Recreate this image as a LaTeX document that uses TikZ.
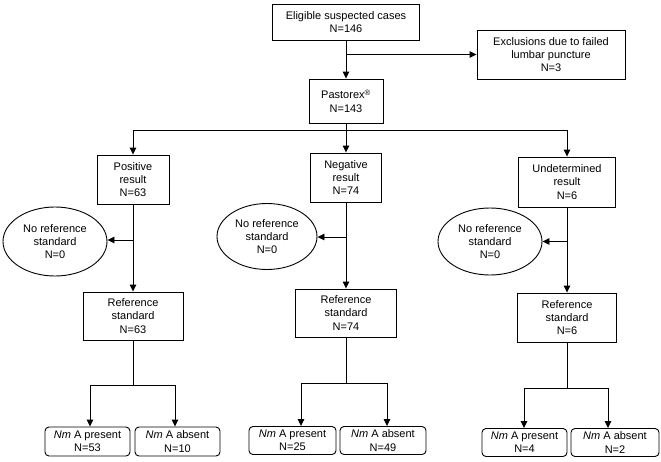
\documentclass[tikz,border=0pt]{standalone}
\usepackage{fontspec}
\setmainfont{Liberation Sans}
\usetikzlibrary{shapes.geometric,arrows.meta}
\tikzset{
  txt/.style={font=\fontsize{11}{13.3}\selectfont, align=center, inner sep=0pt},
  box/.style={txt, draw, line width=0.9pt},
  rbox/.style={box, rounded corners=4pt},
  ell/.style={txt, draw, line width=0.9pt, ellipse},
  ln/.style={line width=0.9pt},
  arr/.style={ln, -{Triangle[length=7pt,width=6.5pt]}}
}
\begin{document}
\begin{tikzpicture}[x=1pt,y=-1pt]
\path[use as bounding box] (0,0) rectangle (661,461);
% top part
\node[box, minimum width=147, minimum height=36] (top) at (346,22) {Eligible suspected cases\\N=146};
\node[box, minimum width=148, minimum height=49] (excl) at (551,54.5) {Exclusions due to failed\\lumbar puncture\\N=3};
\node[box, minimum width=74, minimum height=44] (past) at (346,101) {Pastorex\textsuperscript{\textregistered}\\N=143};
% second level
\node[box, minimum width=72, minimum height=49] (pos) at (133,179.5) {Positive\\result\\N=63};
\node[box, minimum width=71, minimum height=49] (neg) at (346,177.5) {Negative\\result\\N=74};
\node[box, minimum width=97, minimum height=50] (und) at (567,182) {Undetermined\\result\\N=6};
% ellipses
\node[ell, minimum width=104, minimum height=69] (e1) at (55,241.5) {No reference\\standard\\N=0};
\node[ell, minimum width=100, minimum height=66] (e2) at (267,236.5) {No reference\\standard\\N=0};
\node[ell, minimum width=104, minimum height=67] (e3) at (490,241.5) {No reference\\standard\\N=0};
% reference standard
\node[box, minimum width=100, minimum height=48] (r1) at (133,316) {Reference\\standard\\N=63};
\node[box, minimum width=101, minimum height=48] (r2) at (346,313) {Reference\\standard\\N=74};
\node[box, minimum width=99, minimum height=49] (r3) at (567,317.5) {Reference\\standard\\N=6};
% bottom
\node[rbox, minimum width=85, minimum height=29] (a1) at (87.5,441.5) {\textit{Nm} A present\\N=53};
\node[rbox, minimum width=85, minimum height=29] (b1) at (177.5,441.5) {\textit{Nm} A absent\\N=10};
\node[rbox, minimum width=87, minimum height=28] (a2) at (292.5,440.5) {\textit{Nm} A present\\N=25};
\node[rbox, minimum width=86, minimum height=28] (b2) at (383,440.5) {\textit{Nm} A absent\\N=49};
\node[rbox, minimum width=85, minimum height=28] (a3) at (524.5,442.5) {\textit{Nm} A present\\N=4};
\node[rbox, minimum width=88, minimum height=28] (b3) at (615,442.5) {\textit{Nm} A absent\\N=2};
% coordinates
\coordinate (tb) at (346,54.5);
\coordinate (hl) at (346,130);
\coordinate (hlL) at (133,130);
\coordinate (hlR) at (567,130);
\coordinate (m1) at (133,240);
\coordinate (m2) at (346,237);
\coordinate (m3) at (567,241.5);
\coordinate (s1) at (133,385);
\coordinate (s1L) at (90,385);
\coordinate (s1R) at (175,385);
\coordinate (s2) at (346,383);
\coordinate (s2L) at (301,383);
\coordinate (s2R) at (387,383);
\coordinate (s3) at (567,388);
\coordinate (s3L) at (524,388);
\coordinate (s3R) at (608,388);
% connectors
\draw[arr] (top) -- (past);
\draw[arr] (tb) -- (excl.west);
\draw[ln] (past) -- (hl);
\draw[ln] (hlL) -- (hlR);
\draw[arr] (hlL) -- (pos);
\draw[arr] (hl) -- (neg);
\draw[arr] (hlR) -- (und);
\draw[arr] (pos) -- (r1);
\draw[arr] (neg) -- (r2);
\draw[arr] (und) -- (r3);
\draw[arr] (m1) -- (m1 -| e1.east);
\draw[arr] (m2) -- (m2 -| e2.east);
\draw[arr] (m3) -- (m3 -| e3.east);
\draw[ln] (r1) -- (s1);
\draw[ln] (r2) -- (s2);
\draw[ln] (r3) -- (s3);
\draw[ln] (s1L) -- (s1R);
\draw[ln] (s2L) -- (s2R);
\draw[ln] (s3L) -- (s3R);
\draw[arr] (s1L) -- (s1L |- a1.north);
\draw[arr] (s1R) -- (s1R |- b1.north);
\draw[arr] (s2L) -- (s2L |- a2.north);
\draw[arr] (s2R) -- (s2R |- b2.north);
\draw[arr] (s3L) -- (s3L |- a3.north);
\draw[arr] (s3R) -- (s3R |- b3.north);
\end{tikzpicture}
\end{document}
